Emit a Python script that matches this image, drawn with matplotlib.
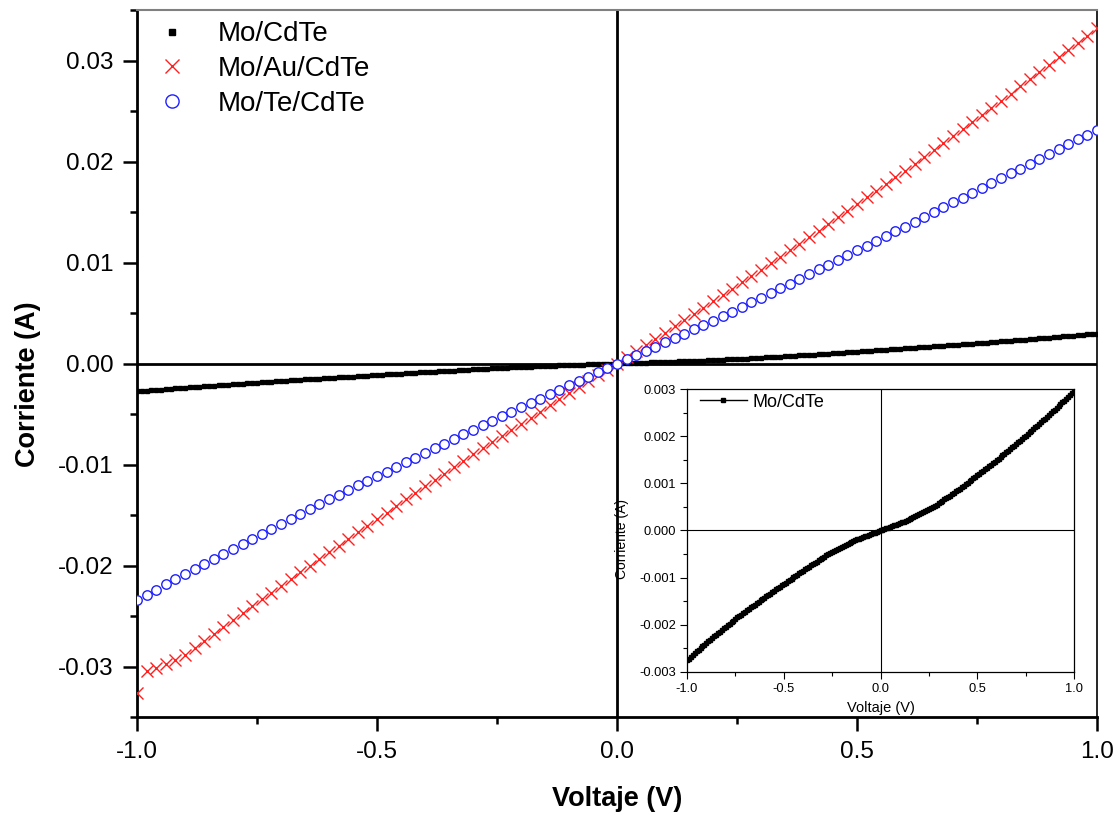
import matplotlib
matplotlib.use("Agg")
import matplotlib.pyplot as plt
import matplotlib.ticker as mticker
import numpy as np

plt.rcParams["font.family"] = ["Liberation Sans", "DejaVu Sans"]

# barrido de voltaje (V), paso 0.01
V_FINE = [
    -1.00, -0.99, -0.98, -0.97, -0.96, -0.95, -0.94, -0.93, -0.92, -0.91,
    -0.90, -0.89, -0.88, -0.87, -0.86, -0.85, -0.84, -0.83, -0.82, -0.81,
    -0.80, -0.79, -0.78, -0.77, -0.76, -0.75, -0.74, -0.73, -0.72, -0.71,
    -0.70, -0.69, -0.68, -0.67, -0.66, -0.65, -0.64, -0.63, -0.62, -0.61,
    -0.60, -0.59, -0.58, -0.57, -0.56, -0.55, -0.54, -0.53, -0.52, -0.51,
    -0.50, -0.49, -0.48, -0.47, -0.46, -0.45, -0.44, -0.43, -0.42, -0.41,
    -0.40, -0.39, -0.38, -0.37, -0.36, -0.35, -0.34, -0.33, -0.32, -0.31,
    -0.30, -0.29, -0.28, -0.27, -0.26, -0.25, -0.24, -0.23, -0.22, -0.21,
    -0.20, -0.19, -0.18, -0.17, -0.16, -0.15, -0.14, -0.13, -0.12, -0.11,
    -0.10, -0.09, -0.08, -0.07, -0.06, -0.05, -0.04, -0.03, -0.02, -0.01,
    0.00,
    0.01, 0.02, 0.03, 0.04, 0.05, 0.06, 0.07, 0.08, 0.09, 0.10,
    0.11, 0.12, 0.13, 0.14, 0.15, 0.16, 0.17, 0.18, 0.19, 0.20,
    0.21, 0.22, 0.23, 0.24, 0.25, 0.26, 0.27, 0.28, 0.29, 0.30,
    0.31, 0.32, 0.33, 0.34, 0.35, 0.36, 0.37, 0.38, 0.39, 0.40,
    0.41, 0.42, 0.43, 0.44, 0.45, 0.46, 0.47, 0.48, 0.49, 0.50,
    0.51, 0.52, 0.53, 0.54, 0.55, 0.56, 0.57, 0.58, 0.59, 0.60,
    0.61, 0.62, 0.63, 0.64, 0.65, 0.66, 0.67, 0.68, 0.69, 0.70,
    0.71, 0.72, 0.73, 0.74, 0.75, 0.76, 0.77, 0.78, 0.79, 0.80,
    0.81, 0.82, 0.83, 0.84, 0.85, 0.86, 0.87, 0.88, 0.89, 0.90,
    0.91, 0.92, 0.93, 0.94, 0.95, 0.96, 0.97, 0.98, 0.99, 1.00,
]
# las muestras Au y Te se midieron con paso 0.02
V_COARSE = V_FINE[::2]

# corriente en mA
I_MO_CDTE = [
    -2.760, -2.722, -2.684, -2.646, -2.608, -2.570, -2.534, -2.498, -2.462, -2.426,
    -2.390, -2.355, -2.320, -2.285, -2.250, -2.215, -2.181, -2.147, -2.113, -2.079,
    -2.045, -2.012, -1.979, -1.946, -1.913, -1.880, -1.849, -1.818, -1.787, -1.756,
    -1.725, -1.695, -1.665, -1.635, -1.605, -1.575, -1.546, -1.516, -1.487, -1.457,
    -1.428, -1.399, -1.370, -1.341, -1.312, -1.283, -1.254, -1.226, -1.197, -1.169,
    -1.140, -1.112, -1.083, -1.055, -1.026, -0.998, -0.969, -0.941, -0.912, -0.884,
    -0.855, -0.827, -0.799, -0.771, -0.743, -0.715, -0.688, -0.661, -0.634, -0.607,
    -0.580, -0.555, -0.530, -0.505, -0.480, -0.455, -0.433, -0.411, -0.389, -0.367,
    -0.345, -0.325, -0.305, -0.285, -0.265, -0.245, -0.227, -0.209, -0.191, -0.173,
    -0.155, -0.139, -0.123, -0.107, -0.091, -0.075, -0.060, -0.045, -0.030, -0.015,
    0.000,
    0.015, 0.030, 0.045, 0.060, 0.075, 0.091, 0.107, 0.123, 0.139, 0.155,
    0.173, 0.190, 0.208, 0.225, 0.243, 0.262, 0.282, 0.301, 0.321, 0.340,
    0.362, 0.384, 0.406, 0.428, 0.450, 0.475, 0.500, 0.525, 0.550, 0.575,
    0.603, 0.630, 0.658, 0.685, 0.713, 0.742, 0.772, 0.801, 0.831, 0.860,
    0.891, 0.921, 0.952, 0.982, 1.013, 1.044, 1.075, 1.106, 1.137, 1.168,
    1.200, 1.232, 1.264, 1.296, 1.328, 1.361, 1.394, 1.427, 1.460, 1.493,
    1.527, 1.561, 1.595, 1.629, 1.663, 1.698, 1.732, 1.767, 1.801, 1.836,
    1.871, 1.906, 1.941, 1.976, 2.011, 2.047, 2.083, 2.119, 2.155, 2.191,
    2.228, 2.265, 2.302, 2.339, 2.376, 2.414, 2.452, 2.490, 2.528, 2.566,
    2.605, 2.644, 2.683, 2.722, 2.761, 2.801, 2.841, 2.881, 2.921, 2.961,
]

I_MO_AU_CDTE = [
    -32.60, -30.45, -30.15, -29.70, -29.35, -28.90, -28.20, -27.50, -26.80, -26.10,
    -25.40, -24.72, -24.04, -23.36, -22.68, -22.00, -21.34, -20.68, -20.02, -19.36,
    -18.70, -18.04, -17.38, -16.72, -16.06, -15.40, -14.75, -14.10, -13.45, -12.80,
    -12.15, -11.52, -10.89, -10.26, -9.63, -9.00, -8.39, -7.78, -7.17, -6.56,
    -5.95, -5.35, -4.75, -4.15, -3.55, -2.95, -2.36, -1.77, -1.18, -0.59,
    0.00,
    0.61, 1.22, 1.83, 2.44, 3.05, 3.67, 4.29, 4.91, 5.53, 6.15,
    6.78, 7.41, 8.04, 8.67, 9.30, 9.94, 10.58, 11.22, 11.86, 12.50,
    13.16, 13.82, 14.48, 15.14, 15.80, 16.46, 17.12, 17.78, 18.44, 19.10,
    19.78, 20.46, 21.14, 21.82, 22.50, 23.20, 23.90, 24.60, 25.30, 26.00,
    26.72, 27.44, 28.16, 28.88, 29.60, 30.32, 31.04, 31.76, 32.48, 33.20,
]

I_MO_TE_CDTE = [
    -23.40, -22.89, -22.38, -21.87, -21.36, -20.85, -20.35, -19.85, -19.35, -18.85,
    -18.35, -17.85, -17.35, -16.85, -16.35, -15.85, -15.37, -14.89, -14.41, -13.93,
    -13.45, -12.99, -12.53, -12.07, -11.61, -11.15, -10.69, -10.23, -9.77, -9.31,
    -8.85, -8.39, -7.93, -7.47, -7.01, -6.55, -6.11, -5.67, -5.23, -4.79,
    -4.35, -3.91, -3.47, -3.03, -2.59, -2.15, -1.72, -1.29, -0.86, -0.43,
    0.00,
    0.42, 0.84, 1.26, 1.68, 2.10, 2.53, 2.96, 3.39, 3.82, 4.25,
    4.70, 5.15, 5.60, 6.05, 6.50, 6.97, 7.44, 7.91, 8.38, 8.85,
    9.32, 9.79, 10.26, 10.73, 11.20, 11.67, 12.14, 12.61, 13.08, 13.55,
    14.03, 14.51, 14.99, 15.47, 15.95, 16.43, 16.91, 17.39, 17.87, 18.35,
    18.83, 19.31, 19.79, 20.27, 20.75, 21.23, 21.71, 22.19, 22.67, 23.15,
]

LABELS = ["Mo/CdTe", "Mo/Au/CdTe", "Mo/Te/CdTe"]

X_TICKS = [-1.0, -0.5, 0.0, 0.5, 1.0]
X_TICK_LABELS = ["-1.0", "-0.5", "0.0", "0.5", "1.0"]
Y_TICKS = [-0.03, -0.02, -0.01, 0.00, 0.01, 0.02, 0.03]
Y_TICK_LABELS = ["-0.03", "-0.02", "-0.01", "0.00", "0.01", "0.02", "0.03"]
INSET_Y_TICKS = [-0.003, -0.002, -0.001, 0.000, 0.001, 0.002, 0.003]
INSET_Y_TICK_LABELS = ["-0.003", "-0.002", "-0.001", "0.000", "0.001", "0.002", "0.003"]

v_f = np.array(V_FINE)
v_c = np.array(V_COARSE)
i_cdte = np.array(I_MO_CDTE) * 1e-3
i_au = np.array(I_MO_AU_CDTE) * 1e-3
i_te = np.array(I_MO_TE_CDTE) * 1e-3

fig = plt.figure(figsize=(11.16, 8.19), dpi=100, facecolor="white")
ax = fig.add_axes([0.1228, 0.1245, 0.8602, 0.8632])

# ejes cero
ax.axhline(0, color="black", lw=2.0, zorder=1)
ax.axvline(0, color="black", lw=2.0, zorder=1)

ax.plot(v_f, i_cdte, ls="none", marker="s", ms=2.8, color="black",
        mec="black", zorder=3, label=LABELS[0])
ax.plot(v_c, i_au, ls="none", marker="x", ms=9, mew=1.0, color="#ff2020",
        zorder=4, label=LABELS[1])
ax.plot(v_c, i_te, ls="none", marker="o", ms=6.8, mew=1.0, mec="#1f1fff",
        mfc="white", zorder=5, label=LABELS[2])

ax.set_xlim(-1.0, 1.0)
ax.set_ylim(-0.035, 0.035)
ax.set_xticks(X_TICKS)
ax.set_xticklabels(X_TICK_LABELS)
ax.set_yticks(Y_TICKS)
ax.set_yticklabels(Y_TICK_LABELS)
ax.xaxis.set_minor_locator(mticker.MultipleLocator(0.25))
ax.yaxis.set_minor_locator(mticker.MultipleLocator(0.005))
ax.tick_params(which="major", direction="out", length=10, width=1.8,
               labelsize=17.5, pad=7)
ax.tick_params(which="minor", direction="out", length=5, width=1.8)
ax.tick_params(top=False, right=False, which="both")

for side in ("left", "bottom"):
    ax.spines[side].set_linewidth(2.0)
ax.spines["top"].set_color("#808080")
ax.spines["top"].set_linewidth(1.5)
ax.spines["right"].set_linewidth(1.2)

ax.set_xlabel("Voltaje (V)", fontsize=19.5, fontweight="bold")
ax.set_ylabel("Corriente (A)", fontsize=19.5, fontweight="bold")
ax.xaxis.set_label_coords(0.5, -0.097)
ax.yaxis.set_label_coords(-0.10, 0.471)

leg = ax.legend(loc="upper left", bbox_to_anchor=(0.007, 0.984), frameon=False,
                fontsize=20, handlelength=2.0, handletextpad=0.65,
                labelspacing=0.31, borderpad=0, borderaxespad=0)
for h, ms in zip(leg.legend_handles, (4.5, 10.5, 9.5)):
    h.set_markersize(ms)

# recuadro con la curva Mo/CdTe ampliada
axi = fig.add_axes([0.6156, 0.1799, 0.3468, 0.3448])
axi.axhline(0, color="black", lw=0.8, zorder=1)
axi.axvline(0, color="black", lw=0.8, zorder=1)
axi.plot(v_f, i_cdte, "-", color="black", lw=1.0, marker="s", ms=2.6,
         zorder=3, label=LABELS[0])
axi.set_xlim(-1.0, 1.0)
axi.set_ylim(-0.003, 0.003)
axi.set_xticks(X_TICKS)
axi.set_xticklabels(X_TICK_LABELS)
axi.set_yticks(INSET_Y_TICKS)
axi.set_yticklabels(INSET_Y_TICK_LABELS)
axi.xaxis.set_minor_locator(mticker.MultipleLocator(0.25))
axi.yaxis.set_minor_locator(mticker.MultipleLocator(0.0005))
axi.tick_params(which="major", direction="out", length=5, width=0.8,
                labelsize=9.3, pad=3)
axi.tick_params(which="minor", direction="out", length=3, width=0.8)
for s in axi.spines.values():
    s.set_linewidth(0.9)
axi.set_xlabel("Voltaje (V)", fontsize=10.5)
axi.set_ylabel("Corriente (A)", fontsize=10)
axi.xaxis.set_label_coords(0.5, -0.105)
axi.yaxis.set_label_coords(-0.15, 0.47)
axi.legend(loc="upper left", bbox_to_anchor=(0.033, 0.985), frameon=False,
           fontsize=13, handlelength=2.6, handletextpad=0.3,
           borderpad=0, borderaxespad=0)

fig.savefig("out.png", dpi=100, facecolor="white")
